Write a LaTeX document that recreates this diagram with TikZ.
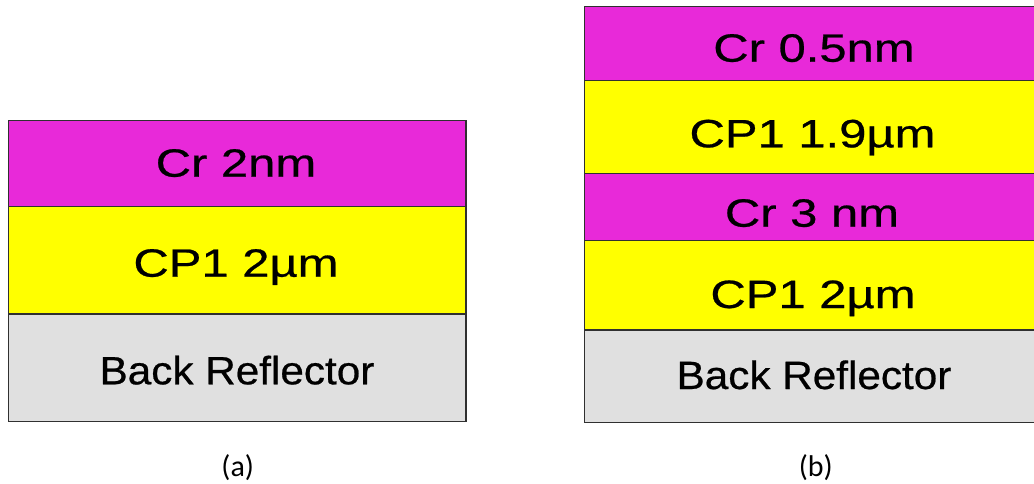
\documentclass[tikz,border=0pt]{standalone}
\usepackage{fontspec}
\setmainfont{Liberation Sans}
\newfontfamily\wideA[FakeStretch=1.24,FakeBold=0.6]{Liberation Sans}
\newfontfamily\wideB[FakeStretch=1.07,FakeBold=0.6]{Liberation Sans}
\newfontfamily\capfont{Carlito}
\definecolor{crmag}{HTML}{E829D9}
\definecolor{cpyel}{HTML}{FFFF00}
\definecolor{brgray}{HTML}{E0E0E0}
\definecolor{edge}{HTML}{303030}
\begin{document}
\begin{tikzpicture}[x=1pt,y=-1pt,
  layerbox/.style={draw=edge, line width=1.5pt, inner sep=0pt, minimum width=457.7pt},
  cr/.style={layerbox, fill=crmag},
  cp/.style={layerbox, fill=cpyel},
  br/.style={layerbox, fill=brgray},
  ltext/.style={anchor=base, inner sep=0pt, font=\fontsize{39.5}{42}\selectfont\wideA},
  btext/.style={anchor=base, inner sep=0pt, font=\fontsize{39.5}{42}\selectfont\wideB},
  caption/.style={inner sep=0pt, font=\capfont\fontsize{30}{32}\selectfont}]
\useasboundingbox (0,0) rectangle (1034,484);
\clip (0,0) rectangle (1034,484);
% stack (a)
\node[cr, minimum height=86pt]    (acr) at (237.15,163.7) {};
\node[cp, minimum height=107.3pt] (acp) at (237.15,260.35) {};
\node[br, minimum height=107.7pt] (abr) at (237.15,367.85) {};
\node[ltext] (tacr) at (236,176.7) {Cr 2nm};
\node[ltext] (tacp) at (236,276.7) {CP1 2µm};
\node[btext] (tabr) at (237,384.3) {Back Reflector};
\node[caption] (capa) at (237.7,467.5) {(a)};
% stack (b)
\node[cr, minimum height=74pt]   (bcr1) at (813.55,43.7) {};
\node[cp, minimum height=92.6pt] (bcp1) at (813.55,127) {};
\node[cr, minimum height=67.4pt] (bcr2) at (813.55,207) {};
\node[cp, minimum height=89.3pt] (bcp2) at (813.55,285.35) {};
\node[br, minimum height=92.7pt] (bbr)  at (813.55,376.35) {};
\node[ltext] (tbcr1) at (814,61.7) {Cr 0.5nm};
\node[ltext] (tbcp1) at (812.5,147.3) {CP1 1.9µm};
\node[ltext] (tbcr2) at (812,226.7) {Cr 3 nm};
\node[ltext] (tbcp2) at (813,308) {CP1 2µm};
\node[btext] (tbbr)  at (814,389) {Back Reflector};
\node[caption] (capb) at (815.8,467.5) {(b)};
\end{tikzpicture}
\end{document}
